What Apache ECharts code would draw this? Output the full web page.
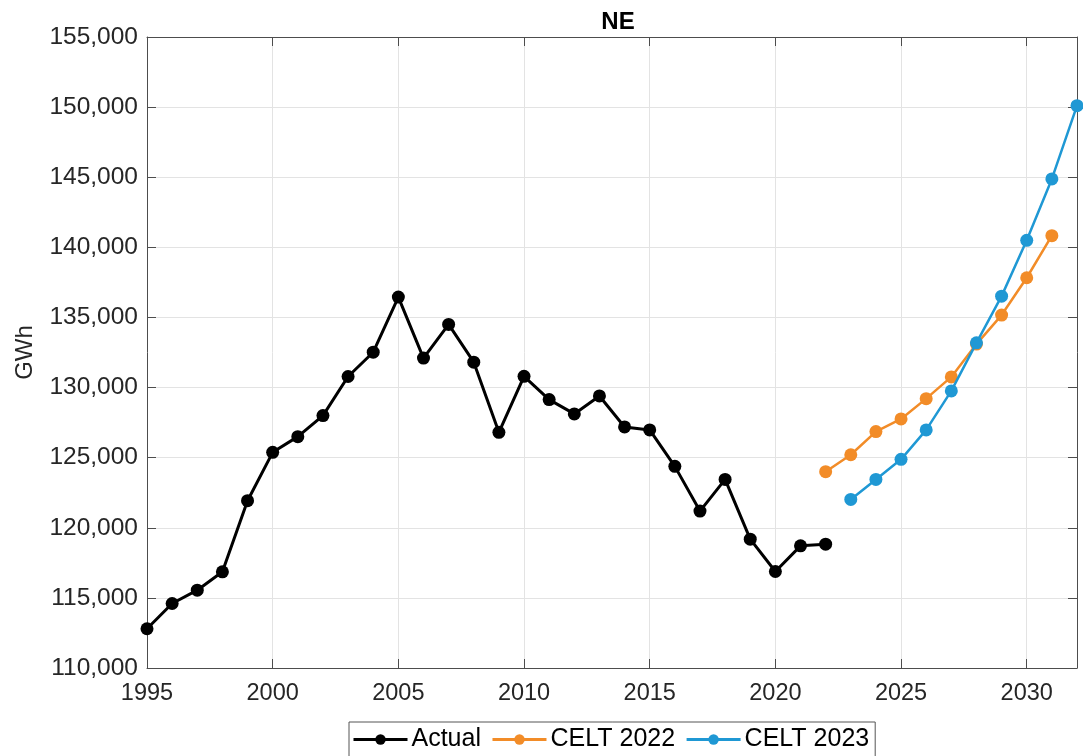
<!DOCTYPE html>
<html>
<head>
<meta charset="utf-8">
<script src="https://cdn.jsdelivr.net/npm/echarts@6/dist/echarts.min.js"></script>
<style>
  html, body { margin: 0; padding: 0; background: #fff; }
  #chart { width: 1083px; height: 756px; }
</style>
</head>
<body>
<div id="chart"></div>
<script>
// Annual energy, GWh
const actualYears = [1995, 1996, 1997, 1998, 1999, 2000, 2001, 2002, 2003, 2004, 2005, 2006, 2007, 2008,
  2009, 2010, 2011, 2012, 2013, 2014, 2015, 2016, 2017, 2018, 2019, 2020, 2021, 2022];
const actualValues = [112800, 114600, 115550, 116860, 121930, 125380, 126500, 128000, 130790, 132520,
  136450, 132100, 134500, 131810, 126810, 130800, 129140, 128120, 129400, 127190, 126980, 124380,
  121190, 123450, 119190, 116880, 118710, 118830];

const celt2022Years = [2022, 2023, 2024, 2025, 2026, 2027, 2028, 2029, 2030, 2031];
const celt2022Values = [124000, 125210, 126860, 127760, 129210, 130760, 133100, 135170, 137830, 140830];

const celt2023Years = [2023, 2024, 2025, 2026, 2027, 2028, 2029, 2030, 2031, 2032];
const celt2023Values = [122020, 123450, 124880, 126980, 129760, 133190, 136520, 140500, 144880, 150100];

const seriesNames = ['Actual', 'CELT 2022', 'CELT 2023'];
const seriesColors = ['#000000', '#F28C28', '#1F98D4'];

const FONT = '"Liberation Sans", Arial, sans-serif';
const TEXT = '#262626';
const AXIS = '#4d4d4d';

function pairs(xs, ys) { return xs.map((x, i) => [x, ys[i]]); }

const chart = echarts.init(document.getElementById('chart'), null, { renderer: 'canvas' });

const hidden = { show: false };
const boxLine = { show: true, lineStyle: { color: AXIS, width: 1 } };
const tickIn = { show: true, inside: true, length: 9, lineStyle: { color: AXIS, width: 1 } };

chart.setOption({
  animation: false,
  backgroundColor: '#ffffff',
  title: {
    text: 'NE', left: 613, top: 5, textAlign: 'center',
    textStyle: { fontFamily: FONT, fontSize: 24, fontWeight: 'bold', color: '#000' }
  },
  grid: { left: 147, right: 6, top: 37, bottom: 88, containLabel: false },
  legend: {
    data: seriesNames,
    left: 349, top: 722,
    orient: 'horizontal',
    itemWidth: 54, itemHeight: 13, itemGap: 10,
    padding: [5, 6, 10, 3],
    borderColor: '#555', borderWidth: 1, backgroundColor: '#fff',
    lineStyle: { width: 3 },
    textStyle: { fontFamily: FONT, fontSize: 25, color: '#000', padding: [0, 0, 0, -1] }
  },
  xAxis: [
    {
      type: 'value', min: 1995, max: 2032, interval: 5, position: 'bottom',
      axisLine: boxLine, axisTick: tickIn,
      axisLabel: {
        fontFamily: FONT, fontSize: 23.5, color: TEXT, margin: 14,
        formatter: v => (v % 5 === 0 ? String(v) : '')
      },
      splitLine: { show: true, lineStyle: { color: '#e3e3e3', width: 1 } }
    },
    {
      type: 'value', min: 1995, max: 2032, interval: 5, position: 'top',
      axisLine: boxLine, axisTick: tickIn, axisLabel: hidden, splitLine: hidden
    }
  ],
  yAxis: [
    {
      type: 'value', min: 110000, max: 155000, interval: 5000, position: 'left',
      name: 'GWh', nameLocation: 'middle', nameGap: 110, nameRotate: 90,
      nameTextStyle: { fontFamily: FONT, fontSize: 24, color: TEXT },
      axisLine: boxLine, axisTick: tickIn,
      axisLabel: {
        fontFamily: FONT, fontSize: 24.5, color: TEXT, margin: 9,
        formatter: v => v.toLocaleString('en-US')
      },
      splitLine: { show: true, lineStyle: { color: '#e3e3e3', width: 1 } }
    },
    {
      type: 'value', min: 110000, max: 155000, interval: 5000, position: 'right',
      axisLine: boxLine, axisTick: tickIn, axisLabel: hidden, splitLine: hidden
    }
  ],
  series: [
    {
      name: seriesNames[0], type: 'line', data: pairs(actualYears, actualValues),
      symbol: 'circle', symbolSize: 13, color: seriesColors[0],
      lineStyle: { width: 3, color: seriesColors[0] }, itemStyle: { color: seriesColors[0] },
      z: 3
    },
    {
      name: seriesNames[1], type: 'line', data: pairs(celt2022Years, celt2022Values),
      symbol: 'circle', symbolSize: 13, color: seriesColors[1],
      lineStyle: { width: 2.5, color: seriesColors[1] }, itemStyle: { color: seriesColors[1] },
      z: 3
    },
    {
      name: seriesNames[2], type: 'line', data: pairs(celt2023Years, celt2023Values),
      symbol: 'circle', symbolSize: 13, color: seriesColors[2],
      lineStyle: { width: 2.5, color: seriesColors[2] }, itemStyle: { color: seriesColors[2] },
      z: 4
    }
  ]
});
</script>
</body>
</html>
